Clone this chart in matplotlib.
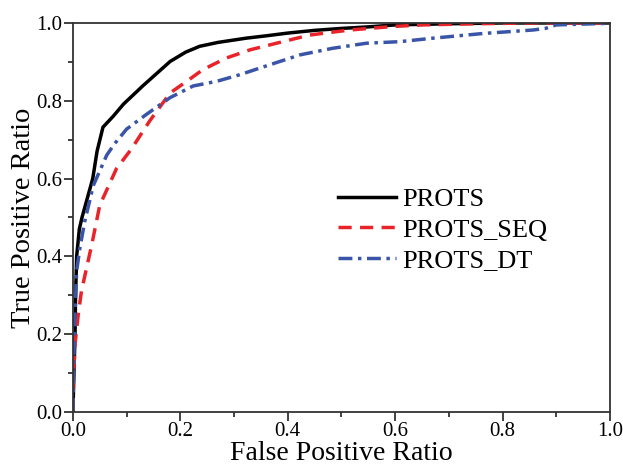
import matplotlib
matplotlib.use("Agg")
import matplotlib.pyplot as plt
from matplotlib.ticker import MultipleLocator, FormatStrFormatter

plt.rcParams["font.family"] = ["Liberation Serif", "DejaVu Serif"]

# ROC curves
prots_fpr = [0.0, 0.002, 0.004, 0.005, 0.007, 0.012, 0.017, 0.027, 0.037, 0.045, 0.056,
             0.075, 0.094, 0.13, 0.16, 0.181, 0.21, 0.236, 0.27, 0.323, 0.36, 0.4, 0.45,
             0.5, 0.55, 0.6, 0.7, 0.8, 1.0]
prots_tpr = [0.0, 0.1, 0.2, 0.3, 0.4, 0.47, 0.5, 0.55, 0.6, 0.67, 0.732,
             0.76, 0.791, 0.838, 0.875, 0.901, 0.925, 0.94, 0.95, 0.961, 0.967, 0.974, 0.981,
             0.986, 0.99, 0.995, 0.998, 1.0, 1.0]

seq_fpr = [0.0, 0.0, 0.004, 0.01, 0.016, 0.035, 0.05, 0.081, 0.109, 0.143, 0.181, 0.212,
           0.242, 0.286, 0.33, 0.391, 0.441, 0.516, 0.596, 0.65, 0.75, 0.85, 1.0]
seq_tpr = [0.0, 0.056, 0.174, 0.25, 0.311, 0.429, 0.531, 0.625, 0.676, 0.748, 0.82, 0.85,
           0.88, 0.91, 0.931, 0.952, 0.969, 0.982, 0.991, 0.995, 0.998, 1.0, 1.0]

dt_fpr = [0.0, 0.002, 0.004, 0.007, 0.013, 0.022, 0.038, 0.063, 0.078, 0.10, 0.137, 0.181,
          0.224, 0.268, 0.311, 0.361, 0.423, 0.484, 0.547, 0.609, 0.671, 0.764, 0.857,
          0.88, 0.9, 0.994, 1.0]
dt_tpr = [0.0, 0.149, 0.26, 0.362, 0.421, 0.489, 0.582, 0.66, 0.69, 0.727, 0.765, 0.808,
          0.838, 0.85, 0.867, 0.89, 0.918, 0.935, 0.948, 0.952, 0.961, 0.973, 0.982,
          0.986, 0.995, 0.999, 1.0]

fig = plt.figure(figsize=(6.23, 4.69), dpi=100)
ax = fig.add_axes([0.117, 0.122, 0.862, 0.829])

lw = 2.5
ax.plot(prots_fpr, prots_tpr, color="black", linewidth=lw, label="PROTS")
ax.plot(seq_fpr, seq_tpr, color="#e8242a", linewidth=lw, dashes=(3.8, 2.4),
        label="PROTS_SEQ")
ax.plot(dt_fpr, dt_tpr, color="#3a55a8", linewidth=lw, dashes=(4.0, 1.6, 1.0, 1.6),
        label="PROTS_DT")

ax.set_xlim(0, 1)
ax.set_ylim(0, 1)
ax.xaxis.set_major_locator(MultipleLocator(0.2))
ax.xaxis.set_minor_locator(MultipleLocator(0.1))
ax.yaxis.set_major_locator(MultipleLocator(0.2))
ax.yaxis.set_minor_locator(MultipleLocator(0.1))
ax.xaxis.set_major_formatter(FormatStrFormatter("%.1f"))
ax.yaxis.set_major_formatter(FormatStrFormatter("%.1f"))
ax.tick_params(which="both", direction="out", top=False, right=False, width=1.3,
               labelsize=15, colors="#333333", labelcolor="black")
ax.tick_params(which="major", length=6.5, pad=1)
ax.tick_params(which="minor", length=3.5)
for s in ax.spines.values():
    s.set_linewidth(1.3)
    s.set_color("#333333")

ax.set_xlabel("False Positive Ratio", fontsize=20, labelpad=0)
ax.set_ylabel("True Positive Ratio", fontsize=20.5, labelpad=0)

ax.legend(loc="center left", bbox_to_anchor=(0.493, 0.468), frameon=False, fontsize=19,
          handlelength=2.2, handletextpad=0.23, labelspacing=0.27, borderpad=0,
          borderaxespad=0)

fig.savefig("out.png", dpi=100)
